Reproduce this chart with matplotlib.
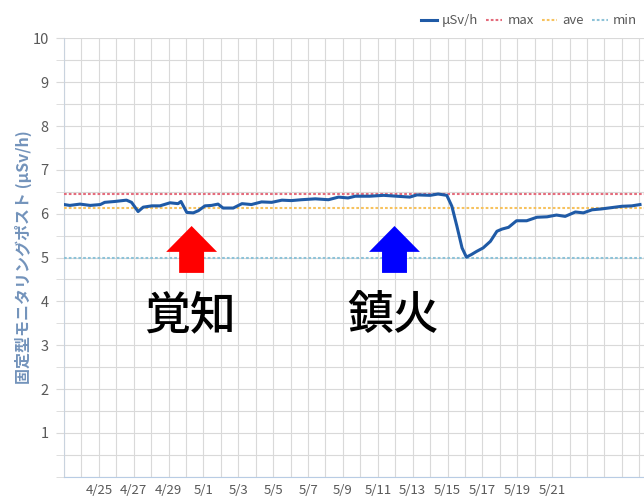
import pandas as pd
import matplotlib
matplotlib.use("Agg")
import matplotlib.pyplot as plt
import matplotlib.dates as mdates
from matplotlib.patches import FancyArrow
from matplotlib.ticker import MultipleLocator, FixedLocator

plt.rcParams["font.family"] = ["Noto Sans CJK JP", "DejaVu Sans"]

# hourly-ish readings (μSv/h)
dose_times = [
    "2017-04-23 00:00", "2017-04-23 08:00", "2017-04-23 22:00", "2017-04-24 12:00",
    "2017-04-25 02:00", "2017-04-25 08:00", "2017-04-25 22:00", "2017-04-26 14:00",
    "2017-04-26 21:00", "2017-04-27 06:00", "2017-04-27 13:00", "2017-04-28 01:00",
    "2017-04-28 12:00", "2017-04-29 02:00", "2017-04-29 13:00", "2017-04-29 17:00",
    "2017-04-30 01:00", "2017-04-30 10:00", "2017-04-30 17:00", "2017-05-01 02:00",
    "2017-05-01 11:00", "2017-05-01 20:00", "2017-05-02 03:00", "2017-05-02 17:00",
    "2017-05-03 05:00", "2017-05-03 18:00", "2017-05-04 08:00", "2017-05-04 22:00",
    "2017-05-05 12:00", "2017-05-06 01:00", "2017-05-06 15:00", "2017-05-07 10:00",
    "2017-05-08 04:00", "2017-05-08 18:00", "2017-05-09 07:00", "2017-05-09 17:00",
    "2017-05-10 00:00", "2017-05-10 13:00", "2017-05-11 08:00", "2017-05-12 02:00",
    "2017-05-12 20:00", "2017-05-13 06:00", "2017-05-14 00:00", "2017-05-14 11:00",
    "2017-05-14 23:00", "2017-05-15 06:00", "2017-05-15 13:00", "2017-05-15 20:00",
    "2017-05-16 02:00", "2017-05-16 09:00", "2017-05-16 16:00", "2017-05-17 01:00",
    "2017-05-17 11:00", "2017-05-17 20:00", "2017-05-18 03:00", "2017-05-18 12:00",
    "2017-05-18 23:00", "2017-05-19 13:00", "2017-05-20 03:00", "2017-05-20 17:00",
    "2017-05-21 06:00", "2017-05-21 18:00", "2017-05-22 08:00", "2017-05-22 19:00",
    "2017-05-23 07:00", "2017-05-23 20:00", "2017-05-24 10:00", "2017-05-25 00:00",
    "2017-05-25 14:00", "2017-05-26 01:00",
]
dose_values = [
    6.21, 6.19, 6.22, 6.19,
    6.21, 6.26, 6.28, 6.31,
    6.26, 6.05, 6.15, 6.18,
    6.18, 6.25, 6.23, 6.28,
    6.03, 6.02, 6.07, 6.18,
    6.19, 6.22, 6.13, 6.13,
    6.23, 6.21, 6.27, 6.26,
    6.31, 6.30, 6.32, 6.34,
    6.32, 6.38, 6.36, 6.40,
    6.40, 6.40, 6.42, 6.40,
    6.38, 6.43, 6.42, 6.45,
    6.42, 6.17, 5.71, 5.22,
    5.01, 5.07, 5.14, 5.22,
    5.37, 5.60, 5.65, 5.69,
    5.84, 5.84, 5.92, 5.93,
    5.97, 5.94, 6.04, 6.02,
    6.09, 6.11, 6.14, 6.17,
    6.18, 6.21,
]

max_value = 6.45
ave_value = 6.13
min_value = 5.00

x_start = "2017-04-23 00:00"
x_end = "2017-05-26 06:30"
tick_dates = ["2017-04-25", "2017-04-27", "2017-04-29", "2017-05-01", "2017-05-03",
              "2017-05-05", "2017-05-07", "2017-05-09", "2017-05-11", "2017-05-13",
              "2017-05-15", "2017-05-17", "2017-05-19", "2017-05-21"]
tick_labels = ["4/25", "4/27", "4/29", "5/1", "5/3", "5/5", "5/7", "5/9",
               "5/11", "5/13", "5/15", "5/17", "5/19", "5/21"]

# event markers: (label, arrow date, colour)
events = [("覚知", "2017-04-30 07:40", "#FF0000"),
          ("鎮火", "2017-05-11 23:00", "#0000FF")]

times = pd.to_datetime(dose_times)

fig = plt.figure(figsize=(6.44, 4.98), dpi=100)
ax = fig.add_axes([0.0994, 0.0428, 0.9006, 0.880])

ax.plot(times, dose_values, color="#1f5aa6", lw=2.2, label="μSv/h", zorder=5,
        solid_joinstyle="round")
ax.axhline(max_value, color="#e46c7c", lw=1.5, ls=(0, (1.3, 1.0)), label="max", zorder=3)
ax.axhline(ave_value, color="#f7c25e", lw=1.5, ls=(0, (1.3, 1.0)), label="ave", zorder=3)
ax.axhline(min_value, color="#8ec3d8", lw=1.5, ls=(0, (1.3, 1.0)), label="min", zorder=3)

for label, when, colour in events:
    xc = mdates.date2num(pd.Timestamp(when))
    ax.add_patch(FancyArrow(xc, 4.65, 0, 1.07, width=1.43, head_width=2.92,
                            head_length=0.59, length_includes_head=True,
                            color=colour, lw=0, zorder=6))
    ax.text(xc - 0.1, 3.67, label, fontsize=33, fontweight="medium",
            ha="center", va="center", color="black", zorder=6)

ax.set_xlim(pd.Timestamp(x_start), pd.Timestamp(x_end))
ax.set_ylim(0, 10)

ax.xaxis.set_major_locator(FixedLocator(mdates.date2num(pd.to_datetime(tick_dates))))
ax.xaxis.set_major_formatter(plt.FixedFormatter(tick_labels))
ax.xaxis.set_minor_locator(mdates.DayLocator())
ax.yaxis.set_major_locator(FixedLocator(range(1, 11)))
ax.yaxis.set_minor_locator(MultipleLocator(0.5))

ax.grid(which="both", color="#d9d9d9", lw=0.8)
ax.set_axisbelow(True)

for side in ["top", "right"]:
    ax.spines[side].set_visible(False)
ax.spines["left"].set_color("#c9d3de")
ax.spines["bottom"].set_color("#b8cce4")

ax.tick_params(axis="y", which="both", length=6, color="#d9d9d9",
               labelcolor="#595959", labelsize=10.5, pad=5)
ax.tick_params(axis="x", which="both", length=0, labelcolor="#595959",
               labelsize=9.5, pad=5)

ax.set_ylabel("固定型モニタリングポスト (μSv/h)", color="#7393bb",
              fontsize=11.5, fontweight="bold")
ax.yaxis.set_label_coords(-0.056, 0.5)

fig.legend(loc="upper right", bbox_to_anchor=(1.008, 0.995), ncol=4, frameon=False,
           fontsize=9.5, handlelength=1.2, handletextpad=0.4, columnspacing=0.6,
           labelcolor="#595959")

fig.savefig("out.png", dpi=100)
